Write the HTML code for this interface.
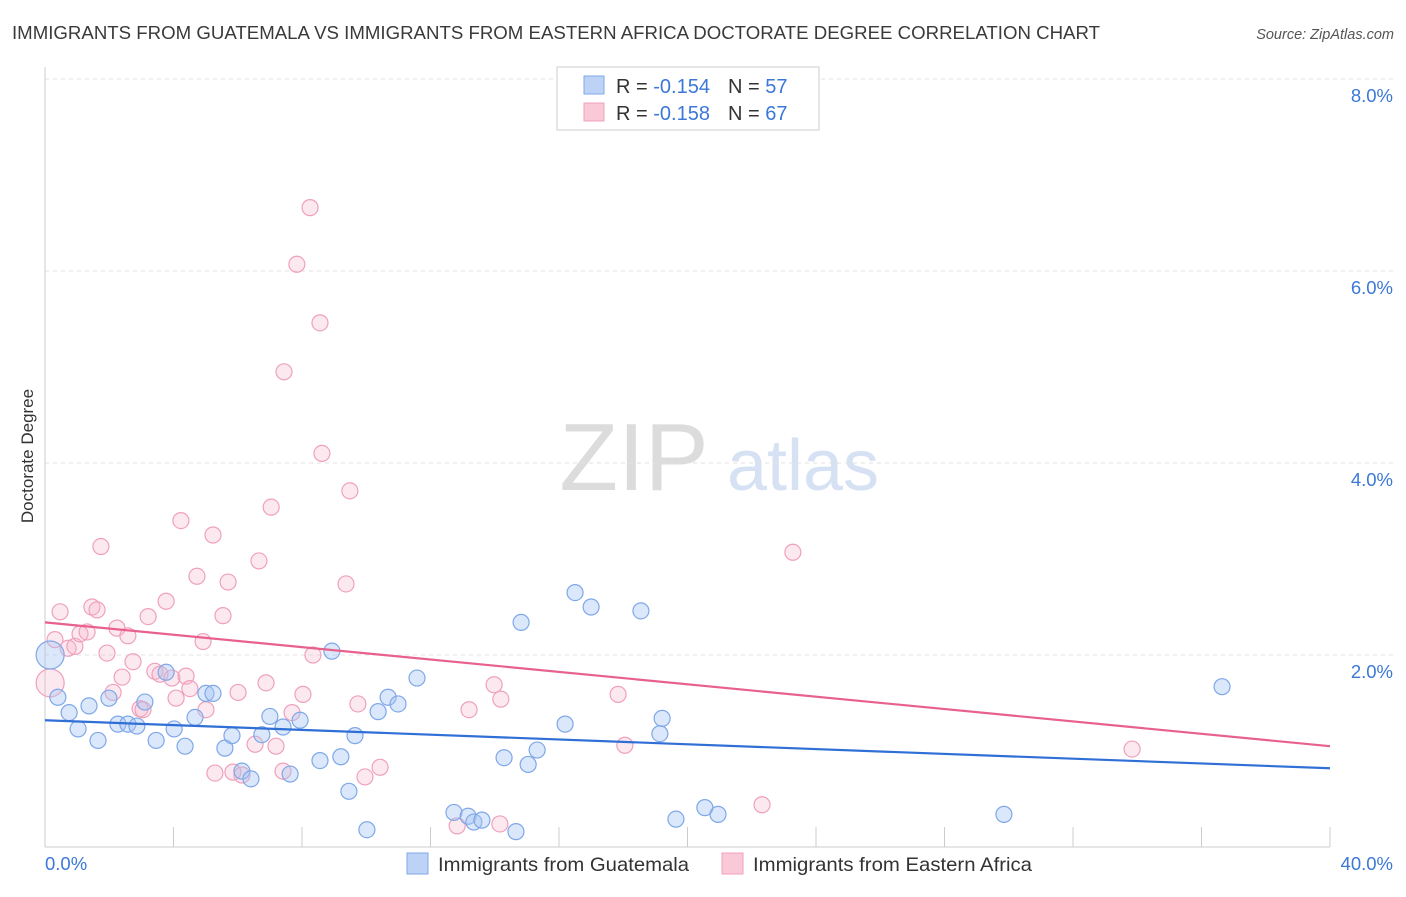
<!DOCTYPE html>
<html><head><meta charset="utf-8"><style>
body{margin:0;background:#fff;font-family:"Liberation Sans",sans-serif;}
svg text{font-family:"Liberation Sans",sans-serif;}
</style></head><body>
<svg id="chart" width="1406" height="892" viewBox="0 0 1406 892" xmlns="http://www.w3.org/2000/svg">
<text x="12" y="39" font-size="18.6" fill="#3a3a3a" textLength="1088" lengthAdjust="spacingAndGlyphs">IMMIGRANTS FROM GUATEMALA VS IMMIGRANTS FROM EASTERN AFRICA DOCTORATE DEGREE CORRELATION CHART</text>
<text x="1394" y="39" font-size="14.5" fill="#555" font-style="italic" text-anchor="end">Source: ZipAtlas.com</text>
<g>
<text x="634" y="490" font-size="96" fill="#dcdcdc" text-anchor="middle" font-family="Liberation Serif,serif">ZIP</text>
<text x="803" y="490" font-size="72" fill="#d6e2f4" text-anchor="middle">atlas</text>
</g>
<g id="grid"></g>
<g id="axes"></g>
<g id="marks"></g>
<text transform="translate(33,456) rotate(-90)" font-size="17" fill="#333" text-anchor="middle">Doctorate Degree</text>
<g>
<rect x="557" y="67" width="262" height="63" fill="#fff" stroke="#ccc"/>
<rect x="584" y="76" width="20" height="18" fill="#bcd3f5" stroke="#7fa8e8"/>
<text x="616" y="93" font-size="20" fill="#333">R = <tspan fill="#3b78d8">-0.154</tspan><tspan dx="18">N = </tspan><tspan fill="#3b78d8">57</tspan></text>
<rect x="584" y="103" width="20" height="18" fill="#f9c9d7" stroke="#f0a0bc"/>
<text x="616" y="120" font-size="20" fill="#333">R = <tspan fill="#3b78d8">-0.158</tspan><tspan dx="18">N = </tspan><tspan fill="#3b78d8">67</tspan></text>
</g>
<g>
<rect x="407" y="853" width="21" height="21" fill="#bcd3f5" stroke="#7fa8e8"/>
<text x="438" y="871" font-size="19.5" fill="#333" textLength="251" lengthAdjust="spacingAndGlyphs">Immigrants from Guatemala</text>
<rect x="722" y="853" width="21" height="21" fill="#f9c9d7" stroke="#f0a0bc"/>
<text x="753" y="871" font-size="19.5" fill="#333" textLength="279" lengthAdjust="spacingAndGlyphs">Immigrants from Eastern Africa</text>
</g>
</svg>
<script>
const xTicks=[0,4,8,12,16,20,24,28,32,36,40];
const yTicks=[2,4,6,8];
const yTickLabels=["2.0%","4.0%","6.0%","8.0%"];
const xEndLabels=["0.0%","40.0%"];
const blueX=[0.40,0.75,1.03,1.37,1.65,1.99,2.27,2.58,2.86,3.11,3.46,3.77,4.02,4.36,4.67,5.01,5.23,5.60,5.82,6.13,6.41,6.75,7.00,7.41,7.63,7.94,8.56,8.93,9.21,9.46,9.65,10.02,10.37,10.68,10.99,11.58,12.73,13.17,13.35,13.60,14.29,14.66,14.82,15.04,15.32,16.19,16.50,17.00,18.55,19.14,19.21,19.64,20.54,20.95,29.85,36.64,0.16];
const blueY=[1.56,1.40,1.23,1.47,1.11,1.55,1.28,1.28,1.26,1.51,1.11,1.82,1.23,1.05,1.35,1.60,1.60,1.03,1.16,0.79,0.71,1.17,1.36,1.25,0.76,1.32,0.90,2.04,0.94,0.58,1.16,0.18,1.41,1.56,1.49,1.76,0.36,0.32,0.26,0.28,0.93,0.16,2.34,0.86,1.01,1.28,2.65,2.50,2.46,1.18,1.34,0.29,0.41,0.34,0.34,1.67,2.0];
const pinkX=[0.16,0.31,0.47,0.72,0.93,1.09,1.31,1.46,1.62,1.74,1.93,2.12,2.24,2.40,2.58,2.74,2.96,3.05,3.21,3.42,3.58,3.77,3.95,4.08,4.23,4.39,4.51,4.73,4.92,5.01,5.23,5.29,5.54,5.70,5.85,6.01,6.13,6.54,6.66,6.88,7.04,7.19,7.41,7.44,7.69,7.84,8.03,8.25,8.34,8.56,8.62,9.37,9.49,9.74,9.96,10.43,12.83,13.20,13.98,14.16,14.19,17.84,18.05,22.32,23.28,33.84];
const pinkY=[1.71,2.16,2.45,2.07,2.09,2.22,2.24,2.50,2.47,3.13,2.02,1.61,2.28,1.77,2.20,1.93,1.44,1.43,2.40,1.83,1.80,2.56,1.76,1.55,3.40,1.78,1.65,2.82,2.14,1.43,3.25,0.77,2.41,2.76,0.78,1.61,0.75,1.07,2.98,1.71,3.54,1.05,0.79,4.95,1.40,6.07,1.59,6.66,2.00,5.46,4.10,2.74,3.71,1.49,0.73,0.83,0.22,1.43,1.69,0.24,1.54,1.59,1.06,0.44,3.07,1.02];
const blueTrend=[1.32,0.82];
const pinkTrend=[2.34,1.05];
const NS="http://www.w3.org/2000/svg";
const X0=45,X1=1330,Y0=847,PY=96;
function xs(v){return X0+(X1-X0)*v/40;}
function ys(v){return Y0-PY*v;}
function mk(tag,attrs,parent){const e=document.createElementNS(NS,tag);for(const k in attrs)e.setAttribute(k,attrs[k]);parent.appendChild(e);return e;}
const grid=document.getElementById('grid'),axes=document.getElementById('axes'),marks=document.getElementById('marks');
yTicks.forEach((t,i)=>{
 const l=mk('line',{x1:X0,x2:1394,y1:ys(t),y2:ys(t),stroke:'#e2e2e2','stroke-dasharray':'4,4'},grid);
 
 
 const tx=mk('text',{x:1393,y:ys(t)+23,'font-size':18.5,fill:'#3b78d8','text-anchor':'end'},axes);
 tx.textContent=yTickLabels[i];
 
 
});
const la=mk('line',{x1:X0,x2:X0,y1:67,y2:Y0,stroke:'#ccc'},axes);


const ba=mk('line',{x1:X0,x2:X1,y1:Y0,y2:Y0,stroke:'#ccc'},axes);


xTicks.forEach(t=>{
 const l=mk('line',{x1:xs(t),x2:xs(t),y1:827,y2:Y0,stroke:'#ccc'},axes);
 
 
});
const xl0=mk('text',{x:45,y:870,'font-size':18.5,fill:'#3b78d8'},axes);xl0.textContent=xEndLabels[0];


const xl1=mk('text',{x:1393,y:870,'font-size':18.5,fill:'#3b78d8','text-anchor':'end'},axes);xl1.textContent=xEndLabels[1];


function dots(X,Y,fill,stroke,name){
 X.forEach((v,i)=>{
  const big=(i===X.length-1&&name==='guatemala-point')||(i===0&&name==='eastern-africa-point');
  const c=mk('circle',{cx:xs(v),cy:ys(Y[i]),r:big?14:8,fill:fill,stroke:stroke,'stroke-width':1.2},marks);
  
  
 });
}
dots(pinkX,pinkY,'rgba(246,182,202,0.3)','#f0a0bc','eastern-africa-point');
dots(blueX,blueY,'rgba(165,195,242,0.4)','#7fa8e8','guatemala-point');
const bt=mk('line',{x1:xs(0),x2:xs(40),y1:ys(blueTrend[0]),y2:ys(blueTrend[1]),stroke:'#2f6fd6','stroke-width':2.2},marks);


const pt=mk('line',{x1:xs(0),x2:xs(40),y1:ys(pinkTrend[0]),y2:ys(pinkTrend[1]),stroke:'#e8608c','stroke-width':2.2},marks);


</script>
</body></html>
